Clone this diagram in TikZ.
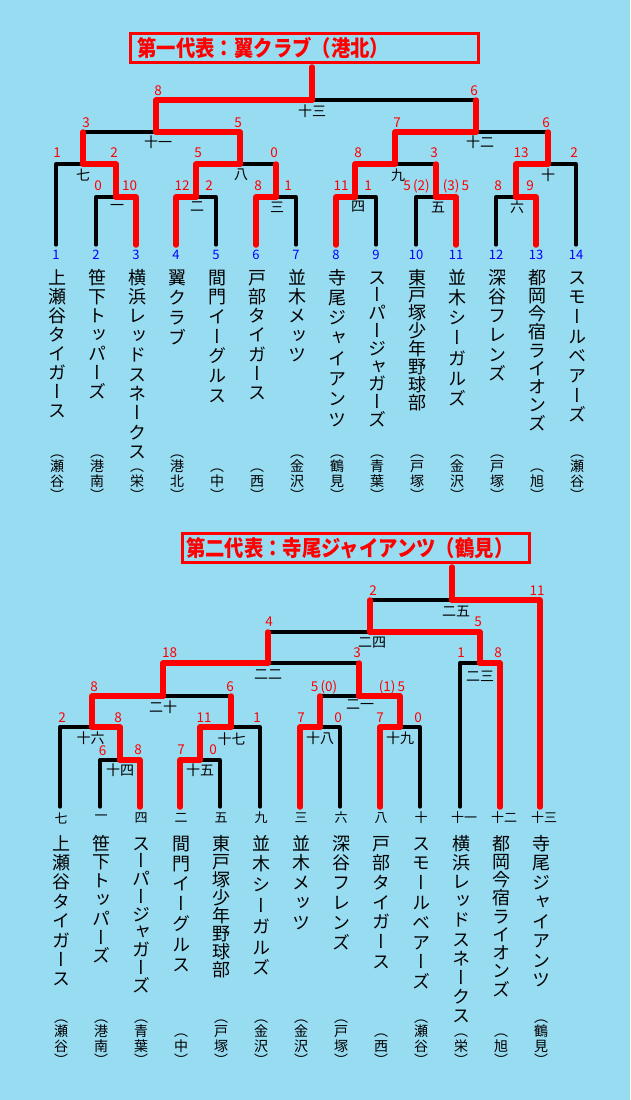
\documentclass[tikz,border=0pt]{standalone}
\usepackage{fontspec}
\usepackage{graphicx}
\newfontfamily\jp{Noto Sans CJK JP}
\newfontfamily\jpv[RawFeature=+vert]{Noto Sans CJK JP}
\definecolor{bg}{HTML}{98DCF2}
\definecolor{wred}{HTML}{FF0000}
\definecolor{nblue}{HTML}{0000FF}
\def\vsEnd{vsEnd}
\newcommand\vstack[2]{\vbox{\offinterlineskip\def\vsP{#1}\edef\vsT{#2}\expandafter\vsA\vsT\vsEnd}}
\def\vsA#1{\ifx#1\vsEnd\else\hbox to 1em{\hss\vrule width 0pt height \dimexpr\vsP/2+0.38em\relax depth \dimexpr\vsP/2-0.38em\relax #1\hss}\expandafter\vsA\fi}
\begin{document}
\begin{tikzpicture}[x=1pt,y=-1pt,
 blk/.style={line width=3.3pt, black, line cap=round, line join=round},
 win/.style={line width=5.5pt, wred, line cap=round, line join=round},
 sc/.style={font=\jp\fontsize{13.5}{13.5}\selectfont, text=wred, inner sep=0pt},
 tnum/.style={font=\jp\fontsize{13}{13}\selectfont, text=nblue, inner sep=0pt},
 mlab/.style={font=\jp\fontsize{14}{14}\selectfont, text=black, inner sep=0pt},
 llab/.style={font=\jp\fontsize{13}{13}\selectfont, text=black, inner sep=0pt},
 vname/.style={font=\jpv\fontsize{18}{18}\selectfont, text=black, inner sep=0pt, anchor=north},
 vdist/.style={font=\jpv\fontsize{14}{14}\selectfont, text=black, inner sep=0pt, anchor=south},
 titlebox/.style={draw=wred, line width=3pt, anchor=north west, minimum height=29pt, inner ysep=0pt, align=left, text=wred, font=\jp\bfseries\fontsize{22}{22}\selectfont}
]
\fill[bg] (0,0) rectangle (630,1100);
\useasboundingbox (0,0) rectangle (630,1100);

% ================= TOP BRACKET =================
\node[titlebox, text width=334pt, inner xsep=7pt] (title1) at (129,32) {\scalebox{0.88}[1]{第一代表：翼クラブ（港北）}};

\foreach \i/\p/\nm/\ds in {1/19/上瀬谷タイガース/瀬谷, 2/19/笹下トッパーズ/港南, 3/19.4/横浜レッドスネークス/栄, 4/20/翼クラブ/港北, 5/19.7/間門イーグルス/中, 6/19.3/戸部タイガース/西, 7/19.4/並木メッツ/金沢, 8/20.3/寺尾ジャイアンツ/鶴見, 9/17.8/スーパージャガーズ/青葉, 10/17.9/東戸塚少年野球部/戸塚, 11/20.3/並木シーガルズ/金沢, 12/19.3/深谷フレンズ/戸塚, 13/18.25/都岡今宿ライオンズ/旭, 14/19.7/スモールベアーズ/瀬谷}{
  \coordinate (T\i) at ({56+40*(\i-1)},245);
  \node[tnum] (Tn\i) at ({56+40*(\i-1)},255) {\i};
  \node[vname] (Tname\i) at ({57+40*(\i-1)},{277-\p/2}) {\vstack{\p pt}{\nm}};
  \node[vdist] (Tdist\i) at ({57+40*(\i-1)},503) {\vstack{14.5pt}{（\ds）}};
}

\coordinate (m1) at (116,197);
\coordinate (m2) at (196,197);
\coordinate (m3) at (276,197);
\coordinate (m4) at (355,197);
\coordinate (m5) at (436,197);
\coordinate (m6) at (516,197);
\coordinate (m7) at (83,164);
\coordinate (m8) at (240,164);
\coordinate (m9) at (395,164);
\coordinate (m10) at (548,164);
\coordinate (m11) at (156,132);
\coordinate (m12) at (476,132);
\coordinate (m13) at (312,100);
\coordinate (c1) at (312,67);

% black (losers)
\draw[blk] (T2) |- (m1);
\draw[blk] (T5) |- (m2);
\draw[blk] (T7) |- (m3);
\draw[blk] (T9) |- (m4);
\draw[blk] (T10) |- (m5);
\draw[blk] (T12) |- (m6);
\draw[blk] (T1) |- (m7);
\draw[blk] (m3 |- m8) -- (m8);
\draw[blk] (m5 |- m9) -- (m9);
\draw[blk] (T14) |- (m10);
\draw[blk] (m7 |- m11) -- (m11);
\draw[blk] (m10 |- m12) -- (m12);
\draw[blk] (m12 |- m13) -- (m13);
% red (winners)
\draw[win] (T3) |- (m1);
\draw[win] (T4) |- (m2);
\draw[win] (T6) |- (m3);
\draw[win] (T8) |- (m4);
\draw[win] (T11) |- (m5);
\draw[win] (T13) |- (m6);
\draw[win] (m1) |- (m7);
\draw[win] (m2) |- (m8);
\draw[win] (m3) -- (m3 |- m8);
\draw[win] (m4) |- (m9);
\draw[win] (m5) -- (m5 |- m9);
\draw[win] (m6) |- (m10);
\draw[win] (m7) -- (m7 |- m11);
\draw[win] (m8) |- (m11);
\draw[win] (m9) |- (m12);
\draw[win] (m10) -- (m10 |- m12);
\draw[win] (m11) |- (m13);
\draw[win] (m12) -- (m12 |- m13);
\draw[win] (m13) -- (c1);

% match labels
\node[mlab] (L1) at (117,207) {一};
\node[mlab] (L2) at (197,207) {二};
\node[mlab] (L3) at (277,207) {三};
\node[mlab] (L4) at (358,207) {四};
\node[mlab] (L5) at (438,207) {五};
\node[mlab] (L6) at (517,207) {六};
\node[mlab] (L7) at (83,175) {七};
\node[mlab] (L8) at (241,175) {八};
\node[mlab] (L9) at (398,175) {九};
\node[mlab] (L10) at (548,175) {十};
\node[mlab] (L11) at (158,142) {十一};
\node[mlab] (L12) at (480,142) {十二};
\node[mlab] (L13) at (312,111) {十三};

% scores
\node[sc] (s1) at (98,186) {0};
\node[sc] (s2) at (129.5,186) {10};
\node[sc] (s3) at (182,186) {12};
\node[sc] (s4) at (209,186) {2};
\node[sc] (s5) at (258,186) {8};
\node[sc] (s6) at (288,186) {1};
\node[sc] (s7) at (341,186) {11};
\node[sc] (s8) at (368,186) {1};
\node[sc] (s9) at (416.5,186) {5\,(2)};
\node[sc] (s10) at (456,186) {(3)\,5};
\node[sc] (s11) at (498,186) {8};
\node[sc] (s12) at (530,186) {9};
\node[sc] (s13) at (57,153) {1};
\node[sc] (s14) at (114,153) {2};
\node[sc] (s15) at (198,153) {5};
\node[sc] (s16) at (274,153) {0};
\node[sc] (s17) at (358,153) {8};
\node[sc] (s18) at (434,153) {3};
\node[sc] (s19) at (521,153) {13};
\node[sc] (s20) at (574,153) {2};
\node[sc] (s21) at (86,123) {3};
\node[sc] (s22) at (238,123) {5};
\node[sc] (s23) at (397,123) {7};
\node[sc] (s24) at (546,123) {6};
\node[sc] (s25) at (158,91) {8};
\node[sc] (s26) at (474,91) {6};

% ================= BOTTOM BRACKET =================
\node[titlebox, text width=340pt, inner xsep=3.5pt] (title2) at (181,532) {\scalebox{0.88}[1]{第二代表：寺尾ジャイアンツ（鶴見）}};

\foreach \i/\lb/\p/\nm/\ds in {1/七/19.4/上瀬谷タイガース/瀬谷, 2/一/18.8/笹下トッパーズ/港南, 3/四/17.75/スーパージャガーズ/青葉, 4/二/20.2/間門イーグルス/中, 5/五/18.1/東戸塚少年野球部/戸塚, 6/九/20.8/並木シーガルズ/金沢, 7/三/19.8/並木メッツ/金沢, 8/六/19.8/深谷フレンズ/戸塚, 9/八/19.7/戸部タイガース/西, 10/十/19.8/スモールベアーズ/瀬谷, 11/十一/19.2/横浜レッドスネークス/栄, 12/十二/18.25/都岡今宿ライオンズ/旭, 13/十三/19.5/寺尾ジャイアンツ/鶴見}{
  \coordinate (B\i) at ({60+40*(\i-1)},807);
  \pgfmathsetmacro\lx{60+40*(\i-1)+(\i>10?4:1)}
  \node[llab] (Bl\i) at (\lx,818) {\lb};
  \node[vname] (Bname\i) at ({61+40*(\i-1)},{843-\p/2}) {\vstack{\p pt}{\nm}};
  \node[vdist] (Bdist\i) at ({61+40*(\i-1)},1068) {\vstack{14.5pt}{（\ds）}};
}

\coordinate (n14) at (120,760);
\coordinate (n15) at (200,760);
\coordinate (n16) at (92,727);
\coordinate (n17) at (231,727);
\coordinate (n18) at (320,727);
\coordinate (n19) at (400,727);
\coordinate (n20) at (163,696);
\coordinate (n21) at (359,696);
\coordinate (n22) at (268,663);
\coordinate (n23) at (480,663);
\coordinate (n24) at (370,632);
\coordinate (n25) at (452,600);
\coordinate (c2) at (452,567);

% black
\draw[blk] (B2) |- (n14);
\draw[blk] (B5) |- (n15);
\draw[blk] (B1) |- (n16);
\draw[blk] (B6) |- (n17);
\draw[blk] (B8) |- (n18);
\draw[blk] (B10) |- (n19);
\draw[blk] (n17 |- n20) -- (n20);
\draw[blk] (n18 |- n21) -- (n21);
\draw[blk] (n21 |- n22) -- (n22);
\draw[blk] (B11) |- (n23);
\draw[blk] (n22 |- n24) -- (n24);
\draw[blk] (n24 |- n25) -- (n25);
% red
\draw[win] (B3) |- (n14);
\draw[win] (B4) |- (n15);
\draw[win] (n14) |- (n16);
\draw[win] (n15) |- (n17);
\draw[win] (B7) |- (n18);
\draw[win] (B9) |- (n19);
\draw[win] (n16) |- (n20);
\draw[win] (n17) -- (n17 |- n20);
\draw[win] (n18) -- (n18 |- n21);
\draw[win] (n19) |- (n21);
\draw[win] (n20) |- (n22);
\draw[win] (n21) -- (n21 |- n22);
\draw[win] (B12) |- (n23);
\draw[win] (n22) -- (n22 |- n24);
\draw[win] (n23) |- (n24);
\draw[win] (n24) -- (n24 |- n25);
\draw[win] (B13) |- (n25);
\draw[win] (n25) -- (c2);

% match labels
\node[mlab] (N14) at (120,770.5) {十四};
\node[mlab] (N15) at (200,770.5) {十五};
\node[mlab] (N16) at (90.5,738) {十六};
\node[mlab] (N17) at (231.5,739) {十七};
\node[mlab] (N18) at (320,738.5) {十八};
\node[mlab] (N19) at (400,738.5) {十九};
\node[mlab] (N20) at (163,707) {二十};
\node[mlab] (N21) at (360,705) {二一};
\node[mlab] (N22) at (268,675) {二二};
\node[mlab] (N23) at (480,676) {二三};
\node[mlab] (N24) at (372,642.5) {二四};
\node[mlab] (N25) at (456,611.5) {二五};

% scores
\node[sc] (t1) at (102.5,751) {6};
\node[sc] (t2) at (138,750) {8};
\node[sc] (t3) at (181,750) {7};
\node[sc] (t4) at (213,750) {0};
\node[sc] (t5) at (62,718) {2};
\node[sc] (t6) at (118,718) {8};
\node[sc] (t7) at (204,718) {11};
\node[sc] (t8) at (257,718) {1};
\node[sc] (t9) at (301,718) {7};
\node[sc] (t10) at (338,718) {0};
\node[sc] (t11) at (380,718) {7};
\node[sc] (t12) at (418,718) {0};
\node[sc] (t13) at (94,687) {8};
\node[sc] (t14) at (230,687) {6};
\node[sc] (t15) at (324,687) {5\,(0)};
\node[sc] (t16) at (392,687) {(1)\,5};
\node[sc] (t17) at (169.5,653) {18};
\node[sc] (t18) at (357,653) {3};
\node[sc] (t19) at (461,653) {1};
\node[sc] (t20) at (498,653) {8};
\node[sc] (t21) at (269,622) {4};
\node[sc] (t22) at (478,622) {5};
\node[sc] (t23) at (373,591) {2};
\node[sc] (t24) at (537,591) {11};
\end{tikzpicture}
\end{document}
